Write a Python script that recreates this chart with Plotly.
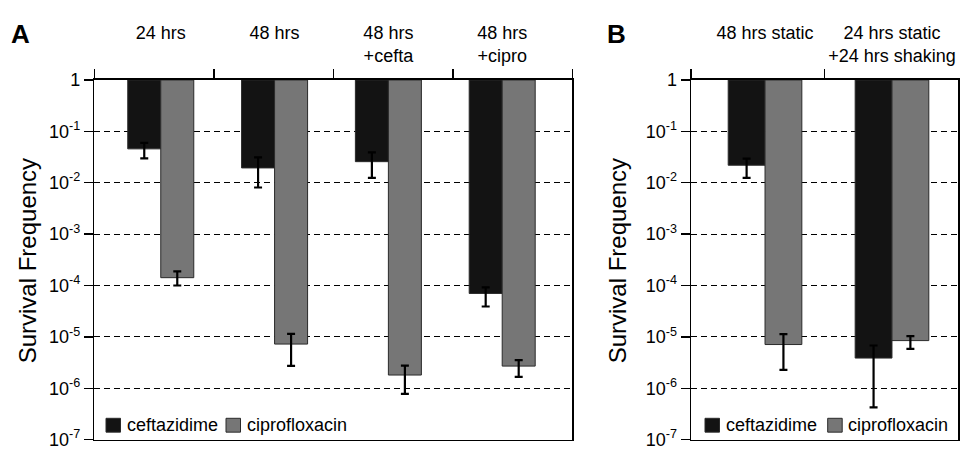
import plotly.graph_objects as go

# ---------------- data ----------------
series_names = ["ceftazidime", "ciprofloxacin"]
series_colors = ["#131313", "#767676"]

categories_a = ["24 hrs<br>\u00a0", "48 hrs<br>\u00a0", "48 hrs<br>+cefta", "48 hrs<br>+cipro"]
ceftazidime_a = [0.0456, 0.0194, 0.0257, 7.0e-5]
ceftazidime_a_hi = [0.0598, 0.031, 0.039, 9.2e-5]
ceftazidime_a_lo = [0.0297, 0.00807, 0.0124, 3.9e-5]
ciprofloxacin_a = [1.42e-4, 7.25e-6, 1.81e-6, 2.7e-6]
ciprofloxacin_a_hi = [1.89e-4, 1.14e-5, 2.77e-6, 3.54e-6]
ciprofloxacin_a_lo = [1.0e-4, 2.74e-6, 7.8e-7, 1.66e-6]

categories_b = ["48 hrs static<br>\u00a0", "24 hrs static<br>+24 hrs shaking"]
ceftazidime_b = [0.0219, 3.87e-6]
ceftazidime_b_hi = [0.0295, 6.8e-6]
ceftazidime_b_lo = [0.0124, 4.26e-7]
ciprofloxacin_b = [7.1e-6, 8.47e-6]
ciprofloxacin_b_hi = [1.13e-5, 1.03e-5]
ciprofloxacin_b_lo = [2.29e-6, 5.86e-6]

exponents = [0, -1, -2, -3, -4, -5, -6, -7]
tick_values = [10.0 ** e for e in exponents]
tick_text = ["1" if e == 0 else "10<sup>%d</sup>" % e for e in exponents]

y_title = "Survival Frequency"
panel_letters = ["A", "B"]

FONT = "Liberation Sans, Arial, Helvetica, sans-serif"
W, H = 962, 451

fig = go.Figure()


def add_bars(cats, vals, hi, lo, name, color, xa, ya):
    fig.add_trace(go.Bar(
        x=cats,
        y=[v - 1.0 for v in vals],
        base=[1.0] * len(vals),
        name=name,
        marker=dict(color=color, line=dict(color="#2a2a2a", width=1)),
        error_y=dict(type="data", symmetric=False,
                     array=[h - v for h, v in zip(hi, vals)],
                     arrayminus=[v - l for v, l in zip(vals, lo)],
                     color="black", thickness=2.2, width=4),
        xaxis=xa, yaxis=ya, showlegend=False, hoverinfo="skip",
    ))


add_bars(categories_a, ceftazidime_a, ceftazidime_a_hi, ceftazidime_a_lo,
         series_names[0], series_colors[0], "x", "y")
add_bars(categories_a, ciprofloxacin_a, ciprofloxacin_a_hi, ciprofloxacin_a_lo,
         series_names[1], series_colors[1], "x", "y")
add_bars(categories_b, ceftazidime_b, ceftazidime_b_hi, ceftazidime_b_lo,
         series_names[0], series_colors[0], "x2", "y2")
add_bars(categories_b, ciprofloxacin_b, ciprofloxacin_b_hi, ciprofloxacin_b_lo,
         series_names[1], series_colors[1], "x2", "y2")

# layout geometry (pixels)
a_left, a_right = 94.3, 572.3
b_left, b_right = 691.0, 958.0
top_px, bot_px = 73.2, 449.6
ydom = [1 - bot_px / H, 1 - top_px / H]

common_x = dict(side="top", type="category", showline=True, mirror=True,
                linecolor="black", linewidth=1.5, ticks="", showgrid=False,
                ticklabelstandoff=9,
                tickfont=dict(family=FONT, size=18, color="black"), fixedrange=True)
tick_axis = dict(side="top", showline=False, showgrid=False,
                 zeroline=False, ticks="outside", ticklen=10, tickwidth=1.5,
                 tickcolor="black", showticklabels=False)
common_y = dict(type="log", range=[-7, 0], tickvals=tick_values, ticktext=tick_text,
                ticks="outside", ticklen=9, tickwidth=1.5, tickcolor="black",
                showline=True, mirror=True, linecolor="black", linewidth=1.5,
                showgrid=True, gridcolor="black", gridwidth=1, griddash="6px,4px",
                zeroline=False, domain=ydom, ticklabeloverflow="allow",
                tickfont=dict(family=FONT, size=18, color="black"))

n_a, n_b = len(categories_a), len(categories_b)
fig.update_layout(
    width=W, height=H,
    margin=dict(l=0, r=0, t=0, b=0),
    paper_bgcolor="white", plot_bgcolor="white",
    barmode="group", bargap=0.42, bargroupgap=0,
    showlegend=False,
    font=dict(family=FONT, color="black"),
    xaxis=dict(common_x, domain=[a_left / W, a_right / W], anchor="y",
               range=[-0.584, n_a - 0.384]),
    xaxis2=dict(common_x, domain=[b_left / W, b_right / W], anchor="y2",
                range=[-0.583, n_b - 0.48]),
    xaxis3=dict(tick_axis, overlaying="x", anchor="y", domain=[a_left / W, a_right / W],
                range=[0, n_a], tickvals=list(range(n_a + 1))),
    xaxis4=dict(tick_axis, overlaying="x2", anchor="y2", domain=[b_left / W, b_right / W],
                range=[0, n_b], tickvals=list(range(n_b))),
    yaxis=dict(common_y, anchor="x"),
    yaxis2=dict(common_y, anchor="x2"),
)

# invisible traces to activate tick axes
fig.add_trace(go.Scatter(x=[None], y=[None], xaxis="x3", yaxis="y", showlegend=False))
fig.add_trace(go.Scatter(x=[None], y=[None], xaxis="x4", yaxis="y2", showlegend=False))

# y titles and panel letters
for cx, letter, lx in [(27, panel_letters[0], 20), (617, panel_letters[1], 616)]:
    fig.add_annotation(text=y_title, x=cx / W, y=1 - 263 / H, xref="paper", yref="paper",
                       textangle=-90, showarrow=False, xanchor="center", yanchor="middle",
                       font=dict(family=FONT, size=24, color="black"))
    fig.add_annotation(text="<b>%s</b>" % letter, x=lx / W, y=1 - 25 / H, xref="paper",
                       yref="paper", showarrow=False, xanchor="center", yanchor="middle",
                       font=dict(family=FONT, size=26, color="black"))

# legends (inside each panel, bottom-left)
sq = 14.5
leg_y = 434.5
for starts in [(106.0, 226.0), (705.0, 827.7)]:
    for name, color, x0 in zip(series_names, series_colors, starts):
        fig.add_shape(type="rect", xref="paper", yref="paper",
                      x0=x0 / W, x1=(x0 + sq) / W,
                      y0=1 - (leg_y + sq / 2) / H, y1=1 - (leg_y - sq / 2) / H,
                      fillcolor=color, line=dict(color="#2a2a2a", width=1))
        fig.add_annotation(text=name, x=(x0 + sq + 4) / W, y=1 - leg_y / H,
                           xref="paper", yref="paper", showarrow=False,
                           xanchor="left", yanchor="middle",
                           font=dict(family=FONT, size=18, color="black"))

fig.write_html("out.html",
               config={"displayModeBar": False, "staticPlot": True},
               post_script="document.body.style.margin='0';"
                           "document.body.style.overflow='hidden';")
